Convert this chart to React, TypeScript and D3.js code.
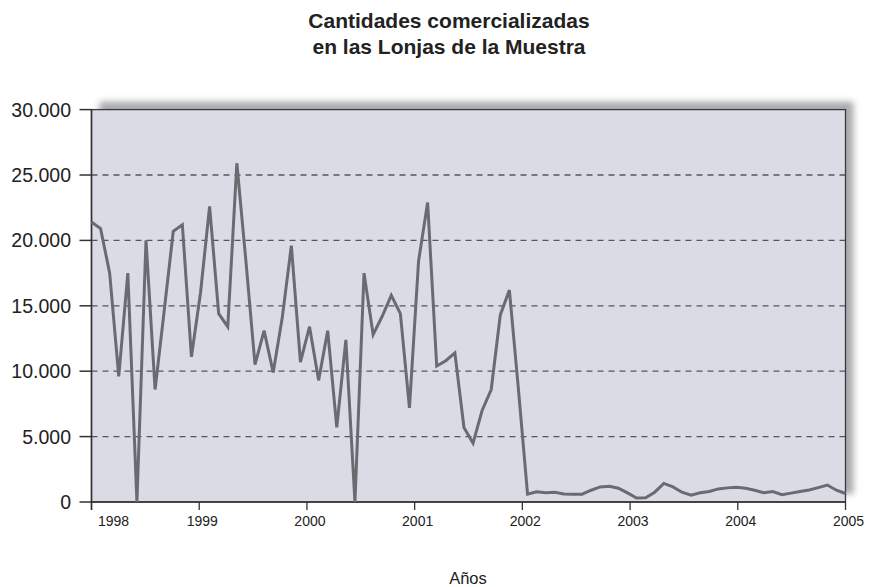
import React, { useRef, useEffect } from 'react';
import * as d3 from 'd3';

// cantidades mensuales, ene 1998 - dic 2004
const values: number[] = [
  21400, 20900, 17500, 9600, 17500, 0, 20000, 8600, 14600, 20700, 21200, 11100,
  16000, 22600, 14400, 13400, 25900, 18400, 10500, 13100, 9900, 14100, 19600, 10700,
  13400, 9300, 13100, 5700, 12400, 0, 17500, 12800, 14200, 15800, 14400, 7200,
  18400, 22900, 10400, 10800, 11400, 5700, 4500, 7000, 8600, 14300, 16200, 8600,
  600, 780, 700, 740, 620, 590, 600, 900, 1150, 1200, 1050, 700,
  300, 330, 750, 1420, 1150, 750, 520, 700, 800, 1000, 1080, 1120,
  1050, 900, 700, 800, 560, 680, 800, 920, 1100, 1300, 900, 650,
];
const years: string[] = ['1998', '1999', '2000', '2001', '2002', '2003', '2004', '2005'];
const yTicks: number[] = [0, 5000, 10000, 15000, 20000, 25000, 30000];

const W = 870;
const H = 587;
const left = 91.5;
const right = 845.5;
const top = 109.6;
const bottom = 502;

const fmt = (v: number) => (v === 0 ? '0' : d3.format(',')(v).replace(/,/g, '.'));

const LineChart = () => {
  const svgRef = useRef<SVGSVGElement>(null);

  useEffect(() => {
    const svg = d3.select(svgRef.current);
    svg.selectAll('*').remove();

    const x = d3.scaleLinear().domain([0, values.length - 1]).range([left, right]);
    const xYear = d3.scaleLinear().domain([0, years.length - 1]).range([left, right]);
    const y = d3.scaleLinear().domain([0, 30000]).range([bottom, top]);

    const defs = svg.append('defs');
    defs
      .append('filter')
      .attr('id', 'blur')
      .append('feGaussianBlur')
      .attr('stdDeviation', 3);

    // sombra del marco
    svg
      .append('rect')
      .attr('x', left + 8)
      .attr('y', top - 8)
      .attr('width', right - left)
      .attr('height', bottom - top)
      .attr('fill', '#a9aaae')
      .attr('filter', 'url(#blur)');

    svg
      .append('rect')
      .attr('x', left)
      .attr('y', top)
      .attr('width', right - left)
      .attr('height', bottom - top)
      .attr('fill', '#d9dce4');

    // lineas de rejilla
    svg
      .append('g')
      .selectAll('line')
      .data(yTicks.filter((d) => d > 0 && d < 30000))
      .enter()
      .append('line')
      .attr('x1', left)
      .attr('x2', right)
      .attr('y1', (d) => y(d))
      .attr('y2', (d) => y(d))
      .attr('stroke', '#55565b')
      .attr('stroke-width', 1.3)
      .attr('stroke-dasharray', '6,5');

    // marco
    svg
      .append('rect')
      .attr('x', left)
      .attr('y', top)
      .attr('width', right - left)
      .attr('height', bottom - top)
      .attr('fill', 'none')
      .attr('stroke', '#3a3a3e')
      .attr('stroke-width', 1.3);

    // eje Y
    const gy = svg.append('g');
    gy.selectAll('line')
      .data(yTicks)
      .enter()
      .append('line')
      .attr('x1', left - 12)
      .attr('x2', left)
      .attr('y1', (d) => y(d))
      .attr('y2', (d) => y(d))
      .attr('stroke', '#333')
      .attr('stroke-width', 1.5);
    gy.selectAll('text')
      .data(yTicks)
      .enter()
      .append('text')
      .attr('x', 71)
      .attr('y', (d) => y(d))
      .attr('dy', '0.36em')
      .attr('text-anchor', 'end')
      .attr('font-family', 'Liberation Sans, Arial, sans-serif')
      .attr('font-size', 19.5)
      .attr('fill', '#222')
      .text((d) => fmt(d));

    // eje X
    const gx = svg.append('g');
    gx.append('line')
      .attr('x1', left)
      .attr('x2', right)
      .attr('y1', bottom)
      .attr('y2', bottom)
      .attr('stroke', '#333')
      .attr('stroke-width', 1.5);
    gx.append('line')
      .attr('x1', left)
      .attr('x2', left)
      .attr('y1', top)
      .attr('y2', bottom + 8)
      .attr('stroke', '#333')
      .attr('stroke-width', 1.5);
    gx.selectAll('line.tick')
      .data(years)
      .enter()
      .append('line')
      .attr('class', 'tick')
      .attr('x1', (d, i) => xYear(i))
      .attr('x2', (d, i) => xYear(i))
      .attr('y1', bottom)
      .attr('y2', bottom + 8)
      .attr('stroke', '#333')
      .attr('stroke-width', 1.3);
    gx.selectAll('text')
      .data(years)
      .enter()
      .append('text')
      .attr('x', (d, i) => (i === 0 ? 98 : xYear(i) + 3))
      .attr('y', 526)
      .attr('text-anchor', (d, i) => (i === 0 ? 'start' : 'middle'))
      .attr('font-family', 'Liberation Sans, Arial, sans-serif')
      .attr('font-size', 14)
      .attr('fill', '#222')
      .text((d) => d);

    // serie
    const line = d3
      .line<number>()
      .x((d, i) => x(i))
      .y((d) => y(d));

    svg
      .append('path')
      .datum(values)
      .attr('d', line)
      .attr('fill', 'none')
      .attr('stroke', '#6a6b70')
      .attr('stroke-width', 3)
      .attr('stroke-linejoin', 'miter');

    // titulos
    const title = svg
      .append('text')
      .attr('text-anchor', 'middle')
      .attr('font-family', 'Liberation Sans, Arial, sans-serif')
      .attr('font-weight', 'bold')
      .attr('font-size', 21)
      .attr('fill', '#222');
    title.append('tspan').attr('x', 449).attr('y', 28).text('Cantidades comercializadas');
    title.append('tspan').attr('x', 449).attr('y', 54).text('en las Lonjas de la Muestra');

    svg
      .append('text')
      .attr('x', 468)
      .attr('y', 584)
      .attr('text-anchor', 'middle')
      .attr('font-family', 'Liberation Sans, Arial, sans-serif')
      .attr('font-size', 16.5)
      .attr('fill', '#222')
      .text('Años');
  }, []);

  return (
    <svg
      ref={svgRef}
      width={W}
      height={H}
      style={{ position: 'absolute', left: 0, top: 0, background: '#fff' }}
    ></svg>
  );
};

export default function App() {
  return <LineChart />;
}
